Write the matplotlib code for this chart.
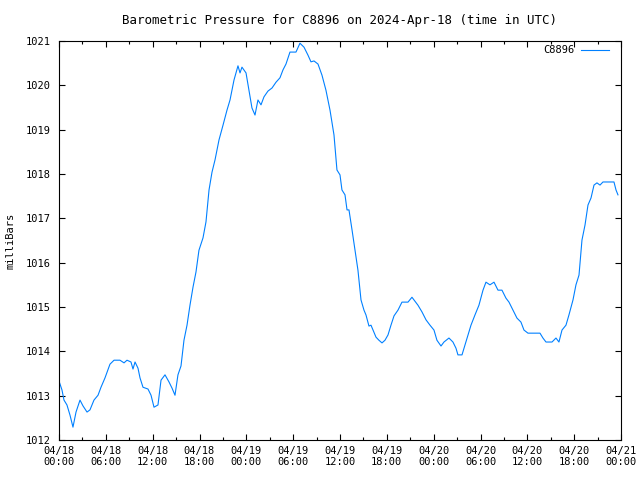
import numpy as np
import matplotlib.pyplot as plt

# hours since 2024-04-18 00:00 UTC
hours = [0, 0.38, 0.64, 1.02, 1.41, 1.79, 2.18, 2.69, 3.07, 3.59, 3.97, 4.48, 5.0, 5.38,
         5.89, 6.53, 7.05, 7.81, 8.33, 8.71, 9.22, 9.48, 9.74, 10.12, 10.38, 10.76, 11.4,
         11.79, 12.17, 12.68, 13.07, 13.58, 14.09, 14.48, 14.86, 15.24, 15.63, 16.01, 16.4,
         16.78, 17.17, 17.55, 17.93, 18.45, 18.83, 19.22, 19.6, 19.99, 20.5, 21.01, 21.52,
         21.91, 22.42, 22.93, 23.19, 23.44, 23.96, 24.34, 24.72, 25.11, 25.49, 25.88, 26.26,
         26.77, 27.29, 27.8, 28.31, 28.7, 29.08, 29.59, 30.36, 30.87, 31.39, 31.9, 32.28,
         32.67, 33.18, 33.69, 34.2, 34.72, 35.23, 35.61, 36.0, 36.25, 36.64, 36.9, 37.15,
         37.54, 37.92, 38.3, 38.69, 39.07, 39.33, 39.71, 39.97, 40.23, 40.61, 40.99, 41.38,
         41.76, 42.15, 42.53, 42.92, 43.43, 43.94, 44.71, 45.22, 45.61, 45.99, 46.5, 47.02,
         47.53, 48.04, 48.42, 48.94, 49.32, 49.96, 50.47, 50.86, 51.11, 51.63, 52.01, 52.4,
         52.78, 53.29, 53.8, 54.32, 54.7, 55.21, 55.73, 56.24, 56.75, 57.26, 57.65, 58.16,
         58.67, 59.18, 59.57, 60.08, 61.62, 62.0, 62.39, 63.16, 63.67, 64.05, 64.44, 64.95,
         65.33, 65.85, 66.23, 66.62, 67.0, 67.39, 67.77, 68.16, 68.54, 68.92, 69.31, 69.69,
         70.33, 71.1, 71.36, 71.61]

pressure = [1013.33, 1013.13, 1012.90, 1012.79, 1012.56, 1012.29, 1012.63, 1012.90, 1012.77,
            1012.63, 1012.68, 1012.90, 1013.01, 1013.19, 1013.40, 1013.71, 1013.80, 1013.80,
            1013.74, 1013.80, 1013.76, 1013.60, 1013.76, 1013.62, 1013.40, 1013.19, 1013.15,
            1013.01, 1012.74, 1012.79, 1013.35, 1013.47, 1013.31, 1013.17, 1013.01, 1013.47,
            1013.67, 1014.25, 1014.59, 1015.04, 1015.45, 1015.79, 1016.28, 1016.56, 1016.92,
            1017.64, 1018.04, 1018.32, 1018.77, 1019.10, 1019.44, 1019.67, 1020.12, 1020.44,
            1020.28, 1020.41, 1020.28, 1019.89, 1019.49, 1019.33, 1019.67, 1019.56, 1019.74,
            1019.87, 1019.94, 1020.07, 1020.17, 1020.35, 1020.48, 1020.75, 1020.75, 1020.95,
            1020.86, 1020.68, 1020.53, 1020.55, 1020.48, 1020.23, 1019.89, 1019.44, 1018.88,
            1018.09, 1017.98, 1017.64, 1017.53, 1017.19, 1017.19, 1016.74, 1016.28, 1015.83,
            1015.16, 1014.93, 1014.82, 1014.57, 1014.59, 1014.48, 1014.32, 1014.25, 1014.19,
            1014.25, 1014.37, 1014.59, 1014.80, 1014.93, 1015.11, 1015.11, 1015.22, 1015.13,
            1015.04, 1014.89, 1014.71, 1014.59, 1014.48, 1014.25, 1014.12, 1014.21, 1014.30,
            1014.21, 1014.07, 1013.92, 1013.92, 1014.14, 1014.37, 1014.59, 1014.82, 1015.04,
            1015.38, 1015.56, 1015.50, 1015.56, 1015.38, 1015.38, 1015.20, 1015.11, 1014.93,
            1014.75, 1014.66, 1014.48, 1014.41, 1014.41, 1014.30, 1014.21, 1014.21, 1014.30,
            1014.21, 1014.48, 1014.59, 1014.82, 1015.16, 1015.50, 1015.72, 1016.51, 1016.85,
            1017.30, 1017.46, 1017.75, 1017.80, 1017.75, 1017.82, 1017.82, 1017.82, 1017.64,
            1017.53]

tick_hours = list(range(0, 73, 6))
tick_labels = ["04/18\n00:00", "04/18\n06:00", "04/18\n12:00", "04/18\n18:00",
               "04/19\n00:00", "04/19\n06:00", "04/19\n12:00", "04/19\n18:00",
               "04/20\n00:00", "04/20\n06:00", "04/20\n12:00", "04/20\n18:00",
               "04/21\n00:00"]

plt.rcParams['font.family'] = ['DejaVu Sans Mono']
plt.rcParams['font.size'] = 7.5

fig = plt.figure(figsize=(6.4, 4.8), dpi=100)
ax = fig.add_axes([59/640, 40/480, 562/640, 399/480])

ax.plot(hours, pressure, color='#0080ff', linewidth=0.8, label='C8896')

ax.set_xlim(0, 72)
ax.set_ylim(1012, 1021)
ax.set_xticks(tick_hours)
ax.set_xticklabels(tick_labels)
ax.set_xticks(range(3, 72, 6), minor=True)
ax.set_yticks(range(1012, 1022))

ax.tick_params(which='both', direction='in', top=True, right=True, width=0.8)
ax.tick_params(which='major', length=4.5)
ax.tick_params(which='minor', length=2.5)
ax.tick_params(axis='y', pad=6)
ax.tick_params(axis='x', pad=4)
for s in ax.spines.values():
    s.set_linewidth(0.8)

ax.set_title("Barometric Pressure for C8896 on 2024-Apr-18 (time in UTC)", pad=12.5)
ax.set_ylabel("milliBars")
ax.yaxis.set_label_coords(-0.078, 0.5)

ax.legend(loc='upper right', bbox_to_anchor=(0.9875, 1.0025), frameon=False,
          markerfirst=False, handlelength=2.7, borderaxespad=0.1, handletextpad=0.6)

fig.savefig("out.png", dpi=100)
